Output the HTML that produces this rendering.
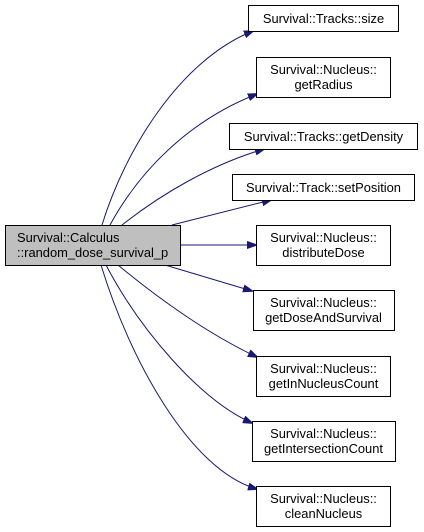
<!DOCTYPE html>
<html><head><style>body{margin:0;background:#fff}svg{display:block}</style></head><body>
<svg width="424" height="532" viewBox="0 0 424 532" xmlns="http://www.w3.org/2000/svg" font-family="Liberation Sans, sans-serif" font-size="12.9">
<defs><marker id="a" markerWidth="10" markerHeight="8" refX="9" refY="4" orient="auto" markerUnits="userSpaceOnUse"><path d="M0,0.5 L10,4 L0,7.5 Z" fill="#191970" stroke="#191970"/></marker></defs>
<g fill="none" stroke="#191970" stroke-width="1" marker-end="url(#a)">
<path d="M102,225 C125,150 180,60 253,31"/>
<path d="M110,225 C140,170 190,120 257,94"/>
<path d="M122,225 C160,195 210,165 264,149"/>
<path d="M172,225 L271,200"/>
<path d="M181,245 L256,245"/>
<path d="M165,265 L252,291"/>
<path d="M118,265 C160,300 210,335 257,357"/>
<path d="M106,265 C140,330 200,400 252,423"/>
<path d="M101,265 C130,360 190,470 257,489"/>
</g>
<g stroke="#000" stroke-width="1" fill="#fff">
<rect x="5.5" y="225.5" width="175" height="40" fill="#bfbfbf"/>
<rect x="248.5" y="5.5" width="150" height="26"/>
<rect x="256.5" y="57.5" width="134" height="40"/>
<rect x="229.5" y="123.5" width="188" height="26"/>
<rect x="232.5" y="174.5" width="182" height="26"/>
<rect x="256.5" y="225.5" width="134" height="40"/>
<rect x="253.5" y="290.5" width="141" height="40"/>
<rect x="256.5" y="356.5" width="134" height="40"/>
<rect x="252.5" y="421.5" width="143" height="40"/>
<rect x="256.5" y="486.5" width="134" height="40"/>
</g>
<g fill="#000">
<text x="17" y="242">Survival::Calculus</text>
<text x="17" y="257">::random_dose_survival_p</text>
<g text-anchor="middle">
<text x="323.5" y="23">Survival::Tracks::size</text>
<text x="323.5" y="74">Survival::Nucleus::</text><text x="323.5" y="89">getRadius</text>
<text x="323.5" y="141">Survival::Tracks::getDensity</text>
<text x="323.5" y="192">Survival::Track::setPosition</text>
<text x="323.5" y="242">Survival::Nucleus::</text><text x="323.5" y="257">distributeDose</text>
<text x="323.5" y="307">Survival::Nucleus::</text><text x="323.5" y="322">getDoseAndSurvival</text>
<text x="323.5" y="373">Survival::Nucleus::</text><text x="323.5" y="388">getInNucleusCount</text>
<text x="323.5" y="438">Survival::Nucleus::</text><text x="323.5" y="453">getIntersectionCount</text>
<text x="323.5" y="503">Survival::Nucleus::</text><text x="323.5" y="518">cleanNucleus</text>
</g></g>
</svg>
</body></html>
